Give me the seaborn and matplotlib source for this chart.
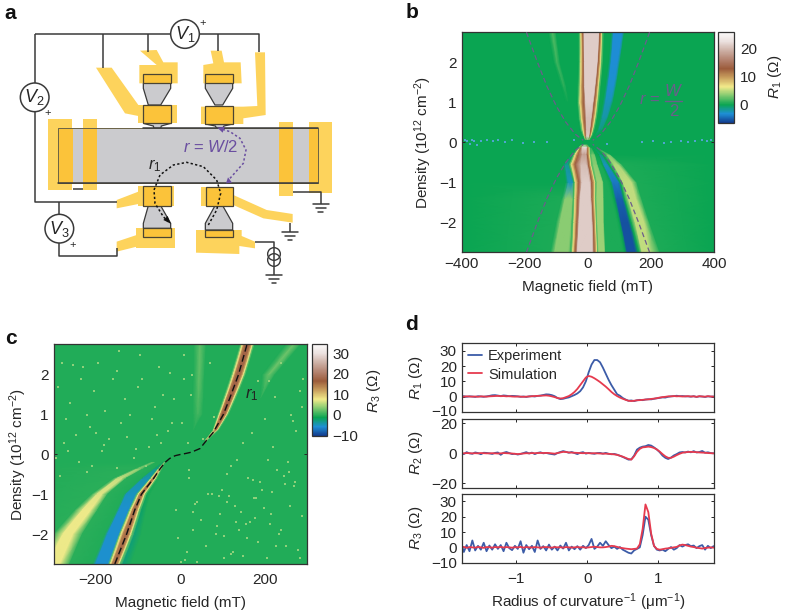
import numpy as np
import matplotlib
matplotlib.use('Agg')
import matplotlib.pyplot as plt
from matplotlib.patches import Polygon, Circle, Rectangle
from matplotlib.transforms import ScaledTranslation
import seaborn as sns

# ---- panel b: bands of R1 across the field axis, one row per density ----
b_up_density = [2.75, 2.0, 1.4, 1.0, 0.6, 0.3, 0.14, 0.07]
b_up_field = [
    [-400, -125, -112, -100, -30, -26, -22, -18, -15, -12, 35, 38, 41, 44, 47, 52, 74, 82, 108, 116, 400],
    [-400, -108, -98, -88, -30, -26, -22, -17, -14, -11, 30, 33, 36, 40, 44, 49, 66, 74, 94, 102, 400],
    [-400, -84, -76, -68, -33, -28, -24, -18, -14, -10, 22, 26, 29, 33, 37, 42, 56, 64, 82, 90, 400],
    [-400, -70, -64, -58, -34, -30, -25, -18, -13, -7, 16, 20, 24, 28, 32, 37, 48, 56, 72, 80, 400],
    [-400, -56, -52, -48, -30, -26, -20, -15, -10, -5, 10, 14, 17, 22, 26, 30, 38, 46, 58, 64, 400],
    [-400, -44, -41, -38, -24, -20, -15, -11, -8, -4, 6, 9, 12, 15, 18, 22, 30, 34, 42, 46, 400],
    [-400, -30, -28, -26, -16, -13, -11, -9, -7, -4, 4, 6, 8, 10, 12, 15, 20, 21, 23, 24, 400],
    [-400, -26, -24, -22, -12, -10, -8, -6, -4, -2, 2, 3, 4, 6, 8, 10, 16, 17, 18, 19, 400],
]
b_up_value = [
    [0, 0, 2, 0, 0, 2, 7, 11, 13, 21, 21, 13, 11, 7, 2, 0, 0, -3.2, -3.2, 0, 0],
    [0, 0, 1.5, 0, 0, 2, 7, 11, 13, 21, 21, 13, 11, 7, 2, 0, 0, -3.2, -3.2, 0, 0],
    [0, 0, 1, 0, 0, 2, 7, 11, 13, 21, 21, 13, 11, 7, 2, 0, 0, -3, -3, 0, 0],
    [0, 0, 0, 0, 0, 2, 7, 11, 13, 21, 21, 13, 11, 7, 2, 0, 0, -2.5, -2.5, 0, 0],
    [0, 0, 0, 0, 0, 2, 7, 11, 13, 20, 20, 13, 11, 7, 2, 0, 0, -2, -2, 0, 0],
    [0, 0, 0, 0, 0, 2, 7, 11, 13, 20, 20, 13, 11, 7, 2, 0, 0, -1, -1, 0, 0],
    [0, 0, 0, 0, 0, 1, 6, 10, 12, 21, 21, 12, 10, 6, 1, 0, 0, 0, 0, 0, 0],
    [0, 0, 0, 0, 0, 0, 1, 2, 2, 3, 3, 2, 2, 1, 0, 0, 0, 0, 0, 0, 0],
]
b_low_density = [-2.75, -2.0, -1.4, -1.0, -0.55, -0.3, -0.12, -0.07]
b_low_field = [
    [-400, -118, -105, -62, -55, -52, -48, -42, -39, -33, 14, 20, 23, 28, 31, 35, 52, 56, 110, 118, 125, 150, 160, 165, 172, 195, 228, 400],
    [-400, -100, -88, -55, -50, -47, -44, -37, -34, -28, 12, 17, 20, 24, 27, 31, 48, 52, 92, 100, 106, 128, 136, 140, 150, 178, 195, 400],
    [-400, -82, -72, -50, -46, -44, -41, -34, -31, -24, 8, 13, 16, 21, 24, 29, 48, 51, 75, 83, 90, 108, 115, 118, 128, 152, 170, 400],
    [-400, -70, -62, -48, -44, -42, -40, -32, -28, -19, 6, 12, 16, 22, 25, 30, 46, 50, 62, 72, 78, 96, 102, 106, 112, 138, 155, 400],
    [-400, -78, -72, -62, -60, -57, -52, -44, -40, -22, -4, 2, 5, 9, 12, 18, 28, 32, 42, 46, 50, 60, 66, 72, 82, 95, 108, 400],
    [-400, -52, -50, -48, -46, -44, -40, -34, -30, -18, -6, -2, 1, 5, 8, 12, 20, 24, 32, 35, 37, 42, 46, 52, 60, 66, 72, 400],
    [-400, -36, -35, -34, -32, -28, -26, -24, -22, -18, -4, -1, 2, 5, 8, 10, 11, 12, 14, 16, 18, 20, 22, 24, 26, 28, 30, 400],
    [-400, -30, -29, -28, -26, -22, -20, -16, -14, -12, -6, -4, -2, 0, 2, 4, 5, 6, 8, 10, 11, 12, 14, 16, 18, 20, 22, 400],
]
b_low_value = [
    [0, 0.5, 3.5, 3.5, 1.5, 2, 7, 11, 13, 21, 21, 13, 11, 7, 2, 4, 4, 0.5, 0.5, 0, -5.5, -5.5, 0, 1, 5, 5, 0.5, 0],
    [0, 0.5, 3.5, 3.5, 1.5, 2, 7, 11, 13, 21, 21, 13, 11, 7, 2, 4, 4, 0.5, 0.5, 0, -5.5, -5.5, 0, 1, 5, 5, 0.5, 0],
    [0, 0.5, 3.5, 3.5, 1.5, 2, 7, 11, 13, 21, 21, 13, 11, 7, 2, 4, 4, 0.5, 0.5, 0, -5, -5, 0, 1, 5, 5, 0.5, 0],
    [0, 0, -2.5, -2.5, 1, 2, 7, 11, 13, 21, 21, 13, 11, 7, 2, 4, 4, 0.5, 0.5, 0, -4, -4, 0, 1, 5, 5, 0.5, 0],
    [0, 0, -1.5, -1.5, 0.5, 2, 7, 11, 13, 20, 20, 13, 11, 7, 2, 3.5, 3.5, 0.5, 0.5, 0, -2.5, -2.5, 0, 1, 4.5, 4.5, 0.5, 0],
    [0, 0, 0, 0, 0.5, 2, 7, 11, 13, 18, 18, 13, 11, 7, 2, 3, 3, 0, 0, 0, -1, -1, 0, 0.5, 3, 3, 0, 0],
    [0, 0, 0, 0, 0, 1, 6, 10, 12, 22, 22, 11, 9, 4, 1, 0, 0, 0, 0, 0, 0, 0, 0, 0, 0, 0, 0, 0],
    [0, 0, 0, 0, 0, 0, 1, 2, 2, 3, 3, 2, 1, 0, 0, 0, 0, 0, 0, 0, 0, 0, 0, 0, 0, 0, 0, 0],
]
b_guide_density = [2.75, 2.0, 1.4, 0.9, 0.5, 0.2, 0.05]
b_guide_field = [195, 160, 130, 100, 70, 40, 15]
b_noise_field = [-390, -382, -375, -368, -362, -350, -338, -320, -300, -285, -262, -240, -205, -170, -130,
                 -45, 60, 170, 205, 240, 262, 295, 318, 340, 362, 378, 390]
b_noise_density = [0.05, 0.04, -0.05, 0.05, 0.04, -0.07, 0.04, 0.05, 0.03, 0.05, 0.02, 0.05, -0.02, 0.02, 0.0,
                   0.05, -0.03, 0.02, 0.03, -0.02, 0.02, 0.03, 0.0, 0.03, 0.05, 0.03, 0.05]

# ---- panel c ----
c_up_density = [2.75, 2.0, 1.4, 1.0, 0.6, 0.35]
c_up_field = [
    [-340, 32, 47, 62, 141, 144, 147, 151, 155, 163, 167, 171, 174, 177, 250, 268, 285, 340],
    [-340, 32, 45, 58, 120, 123, 126, 130, 134, 142, 146, 150, 153, 156, 195, 210, 225, 340],
    [-340, 30, 43, 56, 101, 104, 107, 110, 113, 121, 124, 127, 130, 133, 190, 191, 192, 340],
    [-340, 30, 42, 54, 88, 91, 93, 96, 99, 105, 108, 111, 113, 116, 190, 191, 192, 340],
    [-340, 30, 31, 32, 76, 78, 79.5, 81, 83, 85, 87, 88.5, 90, 92, 190, 191, 192, 340],
    [-340, 30, 31, 32, 58, 59.5, 60, 61, 61.5, 62.5, 63, 64, 64.5, 66, 190, 191, 192, 340],
]
c_up_value = [
    [-0.5, -0.5, 2, -0.5, -0.5, 2, 8, 14, 17.5, 17.5, 14, 8, 2, -0.5, -0.5, 2.5, -0.5, -0.5],
    [-0.5, -0.5, 2, -0.5, -0.5, 2, 8, 14, 17.5, 17.5, 14, 8, 2, -0.5, -0.5, 2.5, -0.5, -0.5],
    [-0.5, -0.5, 1.5, -0.5, -0.5, 2, 8, 14, 17.5, 17.5, 14, 8, 2, -0.5, -0.5, -0.5, -0.5, -0.5],
    [-0.5, -0.5, 1, -0.5, -0.5, 2, 8, 14, 17, 17, 14, 8, 2, -0.5, -0.5, -0.5, -0.5, -0.5],
    [-0.5, -0.5, -0.5, -0.5, -0.5, 2, 7, 12, 15, 15, 12, 7, 2, -0.5, -0.5, -0.5, -0.5, -0.5],
    [-0.5, -0.5, -0.5, -0.5, -0.5, 1, 3, 4, 5, 5, 4, 3, 1, -0.5, -0.5, -0.5, -0.5, -0.5],
]
c_low_density = [-2.75, -2.0, -1.4, -1.0, -0.6, -0.35, -0.2]
c_low_field = [
    [-360, -340, -315, -285, -262, -207, -200, -172, -168, -165, -161, -155, -149, -145, -142, -135, -116, 340],
    [-360, -300, -278, -254, -232, -178, -172, -146, -143, -140, -135, -128, -121, -117, -114, -108, -92, 340],
    [-360, -250, -232, -212, -196, -150, -145, -123, -120, -117, -113, -108, -103, -99, -96, -91, -80, 340],
    [-360, -210, -197, -185, -172, -133, -128, -106, -102, -99, -96, -92, -88, -85, -82, -78, -70, 340],
    [-360, -158, -149, -137, -128, -92, -88, -72, -70, -68, -65.5, -63, -60.5, -58, -56, -53, -48, 340],
    [-360, -106, -99, -93, -86, -62, -59, -53, -51, -50, -48, -47, -46, -44, -43, -41, -38, 340],
    [-360, -72, -66, -62, -57, -42, -40, -38.5, -37.5, -37, -36.5, -36, -35.5, -35, -34.5, -34, -33, 340],
]
c_low_value = [
    [-0.5, 0, 7.5, 7.5, 0, -0.5, -5.5, -5.5, 2, 8, 14, 17.5, 14, 8, 2, -2.5, -0.5, -0.5],
    [-0.5, 0, 7.5, 7.5, 0, -0.5, -5.5, -5.5, 2, 8, 14, 17.5, 14, 8, 2, -2.5, -0.5, -0.5],
    [-0.5, 0, 7.5, 7.5, 0, -0.5, -5.5, -5.5, 2, 8, 14, 17.5, 14, 8, 2, -2, -0.5, -0.5],
    [-0.5, 0, 7, 7, 0, -0.5, -5, -5, 2, 8, 14, 17.5, 14, 8, 2, -1, -0.5, -0.5],
    [-0.5, 0, 6, 6, 0, -0.5, -4.5, -4.5, 2, 8, 13, 16, 13, 8, 2, -0.5, -0.5, -0.5],
    [-0.5, 0, 3.5, 3.5, 0, -0.5, -3, -3, 1, 5, 9, 12, 9, 5, 1, -0.5, -0.5, -0.5],
    [-0.5, -0.5, 1.5, 1.5, -0.5, -0.5, -1, -1, 0.5, 1, 2, 2, 2, 1, 0.5, -0.5, -0.5, -0.5],
]
c_guide_density = [-2.75, -2, -1.4, -1, -0.6, -0.35, -0.2, -0.1, -0.03, 0, 0.03, 0.06, 0.15, 0.35, 0.55, 1, 1.4, 2, 2.75]
c_guide_field = [-155, -127, -108, -92, -63, -47, -36, -25, -12, 0, 15, 27, 47, 62, 78, 102, 117, 138, 158]
c_speck_field = [-280, -255, -230, -195, -160, -130, -95, -60, -25, 10, 25, -270, -215, -170, -120, -75, -30, 70,
                 -240, -185, -110, -45, 20, -285, -220, -150, -80, -10, 40, 185, 210, 240, 275, 290, 220, 255,
                 120, 160, 195, 230, 270, 95, 130, 175, 215, 260, 30, 60, 85, 140, 185, 235, 280, 20, 75, 120,
                 165, 205, 250, 285, 40, 100, 150, 190, 240,
                 -290, -262, -248, -236, -222, -205, -178, -150, -140, -100, -68, -50, -15, 5, 18, -275, -200,
                 -125, -90, -40, -295, -265, -210, -180, -145, -105, -55, -20, 8, 28, 110, 135, 150, 170, 200,
                 225, 262, 283, 115, 145, 178, 208, 245, 272, 105, 125, 155, 180, 212, 248, 268, 292, 55, 80,
                 92, 112, 132, 158, 172, 198, 218, 228, 258, 288, 12, 35, 50, 65, 88, 105, -5, 2, 15, 30]
c_speck_density = [2.3, 2.25, 2.2, 2.3, 1.9, 1.4, 2.5, 1.2, 2.05, 2.5, 1.5, 0.9, 0.7, 0.4, 1.0, 0.2, 0.6, 2.3,
                   -0.2, 0.1, -0.1, 0.3, -0.4, -0.55, -0.45, -0.35, -0.3, -1.4, -1.2, 1.85, 1.85, 2.3, 0.6, 1.2, 0.2, -0.2,
                   -0.3, -0.6, -0.9, -0.4, -0.8, -1.5, -1.3, -1.1, -1.5, -1.3, -1.9, -2.3, -2.0, -1.9, -2.2, -2.0, -2.4,
                   -0.6, -1.0, -2.5, -1.7, -2.6, -2.3, -2.6, -2.7, -0.9, -2.55, -0.7, -1.9,
                   1.7, 1.3, 0.5, 1.9, 1.0, 1.6, 1.1, 2.1, 0.8, 1.7, 0.9, 2.2, 1.4, 0.8, 0.3, 0.3, 0.55,
                   0.45, 1.9, 1.5, -0.1, 0.1, -0.3, 0.25, 2.6, 0.15, 0.5, 0.8, 1.9, 2.0, -0.5, -0.15, 0.3, 0.55, 0.9,
                   1.45, 1.0, 1.6, -1.05, -1.45, -1.6, -0.15, -0.55, -0.7, -2.05, -2.45, -1.75, -1.1, -1.75, -0.75,
                   0.85, 1.9, 0.4, 0.95, -1.05, -1.2, -1.7, -2.1, -0.65, -1.35, -0.95, -2.3, -0.45, -1.55, -2.65,
                   -1.25, -1.65, -1.0, -1.8, -2.6, -2.1, -2.7, -2.45, -1.45]

# ---- panel d ----
curvature = [
    -1.78, -1.74, -1.70, -1.66, -1.62, -1.58, -1.54, -1.50, -1.46, -1.42,
    -1.38, -1.34, -1.30, -1.26, -1.22, -1.18, -1.14, -1.10, -1.06, -1.02,
    -0.98, -0.94, -0.90, -0.86, -0.82, -0.78, -0.74, -0.70, -0.66, -0.62,
    -0.58, -0.54, -0.50, -0.46, -0.42, -0.38, -0.34, -0.30, -0.26, -0.22,
    -0.18, -0.14, -0.10, -0.06, -0.02, 0.02, 0.06, 0.10, 0.14, 0.18,
    0.22, 0.26, 0.30, 0.34, 0.38, 0.42, 0.46, 0.50, 0.54, 0.58,
    0.62, 0.66, 0.70, 0.74, 0.78, 0.82, 0.86, 0.90, 0.94, 0.98,
    1.02, 1.06, 1.10, 1.14, 1.18, 1.22, 1.26, 1.30, 1.34, 1.38,
    1.42, 1.46, 1.50, 1.54, 1.58, 1.62, 1.66, 1.70, 1.74, 1.78,
]
r1_exp = [
    0, 0.2, -0.2, 0.1, 0, -0.3, 0.2, 0, -0.2, 0.1,
    0.4, 0.8, 0.9, 0.6, 0.3, 0.7, 0.5, 0.2, 0.4, 0.3,
    0.1, -0.2, 0, -0.3, 0.1, 0.2, 0, 0.4, 0.6, 1.0,
    1.4, 1.3, 0.9, 0.2, -1.0, -1.7, -1.5, -1.0, -0.6, 0.2,
    1.0, 2.0, 3.5, 6, 10, 16, 21, 24, 24, 22.5,
    19, 15, 11, 7.5, 4.5, 1.5, 0.5, -1, -2, -2.8,
    -2.6, -3, -2.5, -2.2, -2.4, -2, -1.8, -1.9, -1.5, -1.2,
    -0.9, -0.6, -0.7, -0.2, 0.1, 0.2, 0.5, 0.2, 0.3, 0.1,
    0.1, -0.1, 0.2, -0.3, 0.1, 0, -0.3, 0.1, -0.1, 0,
]
r1_sim = [
    0, -0.1, 0.1, 0, -0.1, 0, -0.2, 0.1, 0, -0.1,
    0.1, 0.2, 0.3, 0.4, 0.2, 0.3, 0.1, 0.2, 0, -0.1,
    0, -0.1, -0.2, -0.1, 0, 0.2, 0.3, 0.4, 0.5, 0.6,
    0.7, 0.5, 0.1, -0.4, -1.0, -1.3, -1.1, -0.4, 0.3, 1.5,
    3, 5, 7.5, 10, 12.5, 13.5, 13, 12, 10.8, 9.5,
    8, 6.5, 4.8, 3, 1.5, 0.3, -0.7, -1.5, -2.2, -2.8,
    -3, -2.8, -2.5, -2.4, -2.2, -2, -1.9, -1.6, -1.4, -1.1,
    -0.7, -0.4, -0.2, 0.1, 0.1, 0.3, 0.1, 0.2, 0, 0.1,
    0.2, 0, 0.1, -0.2, 0.2, 0, -0.1, 0.2, 0, -0.1,
]
r2_exp = [
    0.3, -0.5, 0.8, 0, -0.3, 0.6, 0.2, -0.6, 0.4, 0.3,
    0, -0.4, 0.3, 0.6, -1.0, 0.4, 0.9, 0.2, -0.5, -0.3,
    -0.8, -0.4, 0.2, 0.8, -0.1, 0.5, -0.5, 0.3, 0.7, 0,
    0.3, -0.2, -0.5, -0.8, 0.2, 0.9, 1.5, 1.0, 0.4, 0.9,
    0.2, -0.5, 0.4, 0.8, -0.2, 0.3, 0, -0.3, 0.2, 0.3,
    -0.2, 0.3, -0.3, -0.6, -0.4, -0.9, -1.6, -2.4, -3.3, -4.2,
    -4, -1.5, 2.5, 3.8, 4.5, 4.8, 5.6, 5.2, 4, 2.6,
    0.8, -1.5, -3, -3.8, -2.8, -1.4, -0.5, 0.6, 0.9, 0.6,
    1.2, 0.7, 1.5, 0.6, 0.9, 1.6, 0.4, 0.7, 0.2, 0,
]
r2_sim = [
    0.1, 0, 0.2, 0.1, 0, 0.1, 0, 0.2, 0.1, 0,
    0, 0.1, 0, -0.1, 0, 0.2, 0.1, 0, -0.1, -0.3,
    -0.5, -0.3, -0.1, 0.1, 0, 0.2, 0.1, 0.2, 0.3, 0.2,
    0.3, 0.2, 0, -0.2, 0.2, 0.6, 1.0, 0.9, 0.6, 0.5,
    0.4, 0.3, 0.2, 0.1, 0.2, 0.1, 0, 0.1, 0, -0.1,
    -0.2, -0.2, -0.3, -0.5, -0.7, -1, -1.6, -2.2, -3.0, -3.8,
    -4.2, -2, 1, 3, 4, 4.2, 4.5, 4.2, 3.6, 2.6,
    1.2, -0.5, -2, -3, -3, -2.2, -1.2, -0.3, 0.4, 0.7,
    0.9, 1.0, 0.9, 0.8, 0.6, 0.5, 0.4, 0.2, 0.1, 0,
]
r3_exp = [
    3.5, -3, 1.5, -2.5, 4.5, -2, 1, -1.5, 3, -2.5,
    1.2, -1.5, 2, -1, 1.5, -2.5, 3, -0.5, -1.8, 1,
    -1, 4, -3.5, 1.5, -1.2, 1, -3, 4.5, -1, 0.8,
    -2, 1.8, -1.5, 0.5, -2, 1.2, -0.8, 3, -2, 0.5,
    -1.2, 0.8, -1.5, 1, -0.5, 1.5, 5.5, -1, 0.5, 3,
    1, 4, 1.5, -0.5, 0.5, -1, 0.2, -1.5, -2.5, -3.5,
    -4, -2, -1, 0, 8, 20, 18, 8, 1, -1.5,
    -2, -1.5, -2.5, -1, 0.2, -1.5, -0.5, 1.5, 0.5, 1.5,
    2, 0.8, 1.2, -0.5, 0.8, 1.5, -1.5, 1, -0.5, 0.8,
]
r3_sim = [
    0, 0.3, -0.3, 0.2, 0, -0.2, 0.3, 0, -0.3, 0.2,
    0.1, -0.2, 0.2, 0, 0.3, -0.1, 0.2, 0, -0.2, 0.1,
    0, 0.3, -0.2, 0.2, 0, -0.1, 0.2, 0, -0.2, 0.1,
    0.2, 0, -0.2, 0.2, 0, 0.1, -0.2, 0.2, 0, -0.1,
    0, 0.2, 0, 0.1, -0.2, 0, 0.2, 0.4, 0.2, 0,
    0, 0.2, 0.5, 1, 0.8, 0.3, -0.2, -0.5, -0.8, -1,
    -1.2, -1, -0.8, 2, 12, 28, 23, 9, 1, -1,
    -1.5, -1.2, -0.8, -0.6, -0.3, 0, 0.3, 1.2, 1.8, 1.5,
    1, 0.5, 0.2, -0.2, -0.5, -0.8, -0.4, -0.2, 0, -0.2,
]

W, H = 786, 612
TEXT = '#262626'
sns.set_theme(style='ticks', font='Liberation Sans')
plt.rcParams.update({
    'font.size': 11,
    'axes.linewidth': 0.9,
    'axes.edgecolor': '#333333',
    'xtick.direction': 'in',
    'ytick.direction': 'in',
    'xtick.top': True,
    'ytick.right': True,
    'xtick.major.size': 2.5,
    'ytick.major.size': 2.5,
    'xtick.major.width': 0.7,
    'ytick.major.width': 0.7,
    'xtick.labelsize': 11,
    'ytick.labelsize': 11,
    'axes.labelsize': 11,
    'text.color': TEXT,
    'axes.labelcolor': TEXT,
    'xtick.labelcolor': TEXT,
    'ytick.labelcolor': TEXT,
    'mathtext.fontset': 'custom',
    'mathtext.rm': 'Liberation Sans',
    'mathtext.it': 'Liberation Sans:italic',
    'mathtext.bf': 'Liberation Sans:bold',
})

# colour scale, same stops in both maps
resist_cmap = sns.blend_palette(
    ['#123a8c', '#1e8fd6', '#0aa552', '#7fc96f', '#f2ea8a', '#c99f5e',
     '#9c5c3c', '#b48370', '#cdb0a5', '#ebe0de', '#fbfafa'],
    n_colors=256, as_cmap=True)


def px_axes(fig, left, top, right, bottom):
    return fig.add_axes([left / W, 1 - bottom / H, (right - left) / W, (bottom - top) / H])


def band_mesh(ax, density, field, value, vmin, vmax):
    x = np.array(field, dtype=float)
    y = np.tile(np.array(density, dtype=float)[:, None], (1, x.shape[1]))
    return ax.pcolormesh(x, y, np.array(value, dtype=float), shading='gouraud',
                         cmap=resist_cmap, vmin=vmin, vmax=vmax)


def colorbar(fig, mesh, box, ticks, label, label_x, label_y):
    cax = px_axes(fig, *box)
    cb = fig.colorbar(mesh, cax=cax)
    cb.set_ticks(ticks)
    cb.ax.tick_params(length=0, pad=4, right=False, left=False)
    cb.outline.set_linewidth(0.9)
    fig.text(label_x / W, 1 - label_y / H, label, rotation=90, ha='center', va='center', fontsize=11)


fig = plt.figure(figsize=(W / 100, H / 100), dpi=100, facecolor='white')

# ---- a: device schematic, drawn in 1/3 pixel units ----
sk = fig.add_axes([0, 0, 1, 1])
sk.set_xlim(0, W * 3)
sk.set_ylim(H * 3, 0)
sk.axis('off')
sk.set_zorder(5)
YEL, DYEL, GREY, WIRE = '#fdd35c', '#fbc33a', '#cbcbce', '#3a3a3a'

for x0, y0, x1, y1 in [(143, 358, 215, 570), (250, 358, 292, 570), (838, 365, 880, 587), (926, 365, 995, 578)]:
    sk.add_patch(Rectangle((x0, y0), x1 - x0, y1 - y0, fc=YEL, ec='none', zorder=1))
sk.add_patch(Rectangle((173, 385), 782, 163, fc=GREY, ec='none', zorder=2))
for x0, x1 in [(173, 218), (250, 292), (838, 880), (926, 955)]:
    sk.add_patch(Rectangle((x0, 385), x1 - x0, 163, fc=DYEL, ec='none', zorder=3))
sk.add_patch(Rectangle((173, 385), 782, 163, fc='none', ec='#6b6245', lw=0.7, zorder=4))
sk.plot([430, 955], [385, 385], color=WIRE, lw=1.1, zorder=5)
sk.plot([173, 955], [548, 548], color=WIRE, lw=1.1, zorder=5)

yellow_polys = [
    [(420, 152), (470, 150), (490, 187), (533, 187), (533, 250), (418, 250), (418, 195), (470, 195)],
    [(632, 152), (665, 152), (672, 187), (722, 187), (725, 250), (610, 250), (610, 195), (640, 190)],
    [(288, 203), (335, 203), (415, 315), (415, 348), (375, 340)],
    [(415, 315), (530, 315), (530, 368), (415, 368)],
    [(603, 320), (730, 320), (772, 318), (765, 157), (795, 157), (797, 345), (730, 355), (730, 372), (603, 372)],
    [(415, 558), (523, 558), (523, 617), (415, 617)],
    [(350, 600), (415, 575), (415, 612), (350, 625)],
    [(408, 685), (525, 685), (525, 745), (408, 745)],
    [(350, 725), (410, 705), (410, 740), (350, 755)],
    [(602, 562), (700, 562), (700, 617), (602, 617)],
    [(700, 585), (800, 630), (878, 642), (878, 668), (790, 655), (700, 615)],
    [(588, 690), (725, 690), (725, 708), (765, 725), (765, 745), (718, 738), (718, 762), (588, 758)],
    [(450, 533), (490, 533), (482, 548), (458, 548)],
    [(642, 535), (680, 548), (650, 548)],
]
for pts in yellow_polys:
    sk.add_patch(Polygon(pts, closed=True, fc=YEL, ec='none', zorder=1))

grey_polys = [
    [(430, 250), (512, 250), (512, 265), (482, 315), (445, 315), (430, 265)],
    [(616, 250), (698, 250), (698, 265), (668, 315), (645, 315), (616, 265)],
    [(445, 617), (482, 617), (512, 670), (512, 685), (430, 685), (430, 670)],
    [(645, 617), (668, 617), (698, 670), (698, 690), (616, 690), (616, 670)],
    [(430, 370), (512, 370), (484, 378), (482, 385), (462, 385), (460, 378)],
    [(616, 372), (698, 372), (672, 378), (668, 385), (650, 385), (646, 378)],
]
for pts in grey_polys:
    sk.add_patch(Polygon(pts, closed=True, fc=GREY, ec=WIRE, lw=0.9, zorder=2))

dark_pads = [(430, 222, 512, 250), (616, 222, 698, 250), (430, 315, 512, 370), (616, 318, 698, 372),
             (430, 558, 512, 617), (617, 562, 700, 617), (430, 685, 512, 712), (616, 690, 698, 712)]
for x0, y0, x1, y1 in dark_pads:
    sk.add_patch(Rectangle((x0, y0), x1 - x0, y1 - y0, fc=DYEL, ec='#4a4433', lw=0.9, zorder=3))

wires = [
    [(105, 102), (777, 102), (777, 157)],
    [(105, 102), (105, 607), (350, 607)],
    [(308, 102), (308, 203)],
    [(445, 102), (445, 155)],
    [(655, 102), (655, 152)],
    [(178, 607), (178, 768), (350, 768), (350, 745)],
    [(765, 727), (822, 727), (822, 825)],
    [(878, 575), (962, 575), (962, 612)],
    [(870, 668), (870, 697)],
    [(220, 567), (250, 567)],
]
for path in wires:
    sk.plot([p[0] for p in path], [p[1] for p in path], color=WIRE, lw=1.1, zorder=5,
            solid_capstyle='butt')
for gx, gy in [(962, 612), (870, 697), (822, 825)]:
    for half, dy in [(24, 0), (15, 12), (7, 24)]:
        sk.plot([gx - half, gx + half], [gy + dy, gy + dy], color=WIRE, lw=1.1, zorder=5)
for cy in [762, 780]:
    sk.add_patch(Circle((822, cy), 19, fc='none', ec=WIRE, lw=1.0, zorder=6))

for cx, cy, name, px_, py_ in [(555, 102, '$V_1$', 608, 70), (104, 292, '$V_2$', 143, 340), (178, 686, '$V_3$', 217, 736)]:
    sk.add_patch(Circle((cx, cy), 43, fc='white', ec=WIRE, lw=1.1, zorder=7))
    sk.text(cx, cy, name, ha='center', va='center', fontsize=13, zorder=8)
    sk.text(px_, py_, '+', ha='center', va='center', fontsize=8, zorder=8)

r1_path = [(625, 675), (650, 630), (662, 580), (650, 540), (610, 500), (560, 487), (520, 495),
           (480, 525), (462, 570), (465, 610), (490, 650), (505, 665)]
sk.plot([p[0] for p in r1_path], [p[1] for p in r1_path], color='#111111', lw=1.1, ls=(0, (1.5, 1.5)), zorder=9)
sk.add_patch(Polygon([(512, 671), (490, 660), (503, 648)], closed=True, fc='#111111', ec='none', zorder=9))
w2_path = [(690, 535), (730, 490), (738, 450), (720, 415), (690, 395), (665, 387)]
sk.plot([p[0] for p in w2_path], [p[1] for p in w2_path], color='#6a4ea0', lw=1.1, ls=(0, (1.5, 1.5)), zorder=9)
sk.add_patch(Polygon([(652, 383), (674, 380), (668, 398)], closed=True, fc='#6a4ea0', ec='none', zorder=9))
sk.add_patch(Polygon([(678, 550), (696, 548), (684, 532)], closed=True, fc='#6a4ea0', ec='none', zorder=9))
sk.text(632, 440, '$r$ = $W$/2', color='#6a4ea0', ha='center', va='center', fontsize=12, zorder=9)
sk.text(463, 498, '$r_1$', ha='center', va='center', fontsize=12, zorder=9)

for lab, lx, ly in [('a', 30, 40), ('b', 1236, 38), ('c', 33, 1014), ('d', 1235, 972)]:
    sk.text(lx, ly, lab, fontsize=15, fontweight='bold', color='#111111', ha='center', va='center')

# ---- b ----
ax_b = px_axes(fig, 461.7, 32.3, 714.3, 252.3)
ax_b.set_facecolor(resist_cmap((0 + 6.4) / 32))
band_mesh(ax_b, b_up_density, b_up_field, b_up_value, -6.4, 25.6)
mesh_b = band_mesh(ax_b, b_low_density, b_low_field, b_low_value, -6.4, 25.6)
sns.scatterplot(x=b_noise_field, y=b_noise_density, ax=ax_b, s=3, marker='s', color='#4fa6cf', linewidth=0, zorder=4)
guide_col = '#6c5d8c'
for sx, sy in [(1, 1), (-1, 1), (1, -1), (-1, -1)]:
    sns.lineplot(x=[sx * v for v in b_guide_field], y=[sy * v for v in b_guide_density], ax=ax_b, sort=False,
                 estimator=None, color=guide_col, lw=0.9, linestyle=(0, (4, 2.5)), zorder=5)
ax_b.set_xlim(-400, 400)
ax_b.set_ylim(-2.75, 2.75)
ax_b.set_xticks([-400, -200, 0, 200, 400])
ax_b.set_yticks([-2, -1, 0, 1, 2])
ax_b.set_xlabel('Magnetic field (mT)')
ax_b.set_ylabel('Density ($10^{12}$ cm$^{-2}$)')
ax_b.xaxis.set_label_coords(0.5, -0.127)
ax_b.yaxis.set_label_coords(-0.11, 0.5)
sk.text(1950, 300, '$r$ =', color=guide_col, fontsize=12, ha='center', va='center', zorder=9)
sk.text(2021, 272, '$W$', color=guide_col, fontsize=12, ha='center', va='center', zorder=9)
sk.text(2021, 336, '2', color=guide_col, fontsize=12, ha='center', va='center', zorder=9)
sk.plot([1995, 2046], [302, 302], color=guide_col, lw=1, zorder=9)
colorbar(fig, mesh_b, (718.3, 32.3, 734.3, 123), [0, 10, 20], '$R_1$ (Ω)', 775, 77)

# ---- c ----
ax_c = px_axes(fig, 53.7, 344.3, 306.7, 564.3)
ax_c.set_facecolor(resist_cmap((-0.5 + 10.3) / 44.8))
band_mesh(ax_c, c_up_density, c_up_field, c_up_value, -10.3, 34.5)
mesh_c = band_mesh(ax_c, c_low_density, c_low_field, c_low_value, -10.3, 34.5)
sns.scatterplot(x=c_speck_field, y=c_speck_density, ax=ax_c, s=2.5, marker='s', color='#8fd07a', linewidth=0, zorder=4)
sns.lineplot(x=c_guide_field, y=c_guide_density, ax=ax_c, sort=False, estimator=None, color='#111111', lw=1.0,
             linestyle=(0, (5, 2.5)), zorder=5)
ax_c.set_xlim(-300, 300)
ax_c.set_ylim(-2.76, 2.77)
ax_c.set_xticks([-200, 0, 200])
ax_c.set_yticks([-2, -1, 0, 1, 2])
ax_c.set_xlabel('Magnetic field (mT)')
ax_c.set_ylabel('Density ($10^{12}$ cm$^{-2}$)')
ax_c.xaxis.set_label_coords(0.5, -0.145)
ax_c.yaxis.set_label_coords(-0.098, 0.5)
ax_c.tick_params(axis='x', pad=6)
ax_c.text(154, 1.5, '$r_1$', fontsize=12, ha='left', va='center', color='#222222')
colorbar(fig, mesh_c, (311.7, 344.3, 327, 436), [-10, 0, 10, 20, 30], '$R_3$ (Ω)', 374, 391)

# ---- d ----
BLUE, RED = '#3c5ca8', '#e63a4e'
boxes = [(343.3, 411.7), (419, 487.7), (493.7, 562.7)]
series = [(r1_exp, r1_sim), (r2_exp, r2_sim), (r3_exp, r3_sim)]
limits = [(-10, 35), (-23, 23), (-10, 35)]
y_ticks = [[-10, 0, 10, 20, 30], [-20, 0, 20], [-10, 0, 10, 20, 30]]
names = ['$R_1$ (Ω)', '$R_2$ (Ω)', '$R_3$ (Ω)']
for i in range(3):
    ax = px_axes(fig, 461.7, boxes[i][0], 714.3, boxes[i][1])
    exp_vals, sim_vals = series[i]
    sns.lineplot(x=curvature, y=exp_vals, ax=ax, color=BLUE, lw=1.3, estimator=None, label='Experiment')
    sns.lineplot(x=curvature, y=sim_vals, ax=ax, color=RED, lw=1.3, estimator=None, label='Simulation')
    ax.set_xlim(-1.77, 1.79)
    ax.set_ylim(*limits[i])
    ax.set_yticks(y_ticks[i])
    ax.set_xticks([-1, 0, 1])
    ax.set_ylabel(names[i])
    ax.yaxis.set_label_coords(-0.147, 0.5)
    if i == 0:
        ax.legend(loc='upper left', frameon=False, fontsize=10.5, handlelength=1.0, handletextpad=0.4,
                  labelspacing=0.3, borderaxespad=0.1, borderpad=0.3)
        # bottom label sits a bit above its tick, clear of the next panel
        low = ax.get_yticklabels()[0]
        low.set_transform(low.get_transform() + ScaledTranslation(0, 1 / 72, fig.dpi_scale_trans))
    else:
        ax.get_legend().remove()
    if i < 2:
        ax.set_xticklabels([])
    else:
        ax.tick_params(axis='x', pad=7)
        ax.set_xlabel('Radius of curvature$^{-1}$ (μm$^{-1}$)')
        ax.xaxis.set_label_coords(0.5, -0.42)

fig.savefig('out.png', dpi=100)
